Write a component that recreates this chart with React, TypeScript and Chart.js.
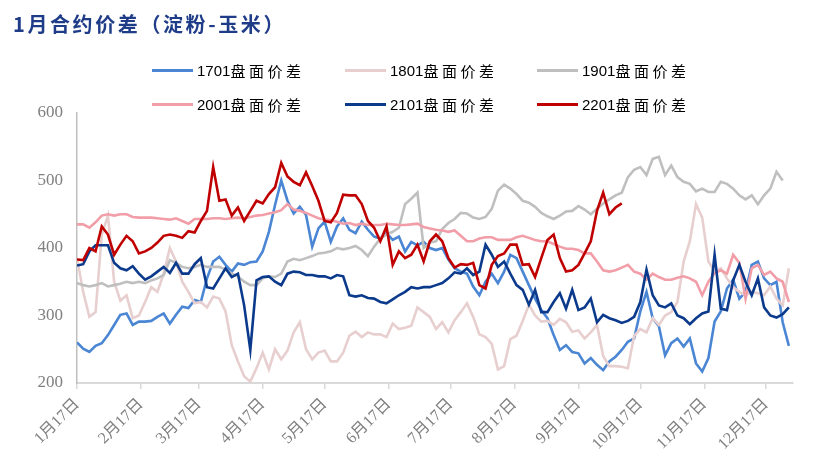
import React, { useEffect, useRef } from "react";
import { Chart, registerables } from "chart.js";

Chart.register(...registerables);

// x = days after Jan 17 (one sample every 3 days)
const DAYS: number[] = Array.from({ length: 116 }, (_, i) => i * 3);
const MONTH_TICKS = [0, 31, 59, 90, 120, 151, 181, 212, 243, 273, 304, 334];
const TICK_LABELS = ["1月17日", "2月17日", "3月17日", "4月17日", "5月17日", "6月17日", "7月17日", "8月17日", "9月17日", "10月17日", "11月17日", "12月17日"];
const TITLE = "1月合约价差（淀粉-玉米）";
const SERIES_NAMES = ["1701", "1801", "1901", "2001", "2101", "2201"];

const S1701 = [
  260, 251, 246, 255, 259, 271, 286, 301, 303, 286,
  291, 291, 292, 298, 303, 288, 301, 313, 311, 323,
  320, 355, 380, 387, 375, 365, 377, 375, 379, 380,
  395, 424, 464, 500, 470, 451, 461, 449, 402, 429,
  439, 409, 432, 444, 427, 422, 439, 427, 417, 414,
  422, 412, 417, 395, 409, 404, 409, 400, 397, 400,
  383, 370, 365, 362, 343, 330, 350, 362, 348, 365,
  390, 385, 365, 345, 325, 308, 296, 271, 249, 256,
  246, 244, 229, 237, 227, 219, 232, 239, 249, 261,
  266, 306, 335, 296, 284, 241, 259, 266, 254, 266,
  229, 217, 237, 291, 306, 340, 353, 325, 335, 375,
  380, 355, 345, 350, 290, 255,
];
const S1801 = [
  385, 335, 298, 305, 420, 448, 350, 322, 330, 296,
  300, 320, 342, 335, 362, 400, 380, 350, 335, 318,
  320, 312, 328, 325, 306, 256, 232, 210, 202, 222,
  245, 220, 250, 235, 248, 275, 290, 250, 235, 245,
  248, 232, 232, 245, 270, 276, 268, 275, 272, 272,
  268, 288, 280, 282, 285, 312, 305, 298, 280, 290,
  275, 293, 305, 318, 298, 272, 268, 258, 220, 225,
  265, 270, 292, 316, 300, 291, 292, 286, 295, 290,
  276, 278, 266, 275, 286, 240, 225, 225, 224, 222,
  270, 280, 275, 296, 286, 300, 305, 320, 380, 410,
  465, 445, 380, 365, 370, 355, 342, 335, 330, 335,
  333, 330, 343, 325, 315, 370,
];
const S1901 = [
  348, 345, 343, 345, 348, 343, 345, 347, 350, 348,
  350, 348, 352, 355, 360, 382, 378, 372, 370, 372,
  375, 372, 372, 372, 368, 362, 358, 350, 345, 345,
  355, 358, 357, 362, 380, 384, 382, 385, 388, 392,
  393, 395, 400, 398, 400, 403, 397, 388, 402, 414,
  420, 424, 430, 465, 473, 482, 400, 408, 410, 428,
  437, 443, 452, 451, 445, 443, 446, 458, 485, 494,
  488, 480, 470, 467, 461, 452, 447, 443, 448, 454,
  455, 462, 457, 450, 458, 466, 472, 478, 482, 505,
  516, 520, 508, 532, 535, 508, 522, 505, 498, 495,
  484, 488, 483, 483, 498, 495, 488, 478, 472, 478,
  465, 478, 488, 513, 500, null,
];
const S2001 = [
  435, 435, 430, 438, 448, 450, 448, 450, 450, 446,
  445, 445, 445, 444, 443, 442, 444, 440, 436, 443,
  443, 443, 444, 444, 443, 444, 445, 444, 446, 448,
  449, 451, 453, 456, 465, 457, 455, 452, 448, 444,
  442, 441, 439, 436, 437, 434, 436, 434, 434, 434,
  436, 435, 434, 434, 435, 436, 431, 429, 427, 426,
  424, 426, 418, 410, 410, 414, 416, 416, 412, 412,
  412, 416, 418, 415, 412, 410, 410, 406, 402, 399,
  399, 397, 392, 392, 380, 367, 365, 367, 371, 375,
  365, 362, 353, 362, 357, 353, 353, 356, 358, 355,
  350, 330, 350, 363, 367, 362, 390, 378, 325, 370,
  375, 360, 365, 355, 350, 320,
];
const S2101 = [
  374, 376, 395, 404, 404, 404, 378, 370, 367, 373,
  362, 353, 358, 365, 372, 363, 378, 362, 362, 376,
  385, 342, 340, 355, 370, 357, 362, 315, 249, 352,
  357, 358, 350, 345, 362, 365, 364, 360, 360, 358,
  358, 355, 360, 358, 330, 328, 330, 326, 325, 320,
  318, 324, 330, 335, 342, 340, 342, 342, 345, 348,
  355, 364, 362, 370, 360, 365, 405, 390, 372, 380,
  362, 345, 338, 316, 338, 305, 305, 320, 333, 310,
  338, 308, 312, 325, 290, 301, 296, 293, 289, 292,
  298, 320, 368, 330, 315, 312, 318, 300, 296, 287,
  296, 303, 306, 390, 310, 308, 352, 375, 350, 330,
  355, 312, 300, 297, 302, 312,
];
const S2201 = [
  383, 382, 400, 395, 432, 420, 390, 405, 418, 410,
  392, 395, 400, 408, 418, 420, 418, 415, 425, 423,
  440, 455, 520, 470, 472, 448, 460, 440, 455, 470,
  466, 480, 490, 526, 506, 498, 493, 512, 492, 470,
  440, 438, 452, 479, 478, 478, 465, 440, 430, 410,
  432, 375, 395, 385, 390, 405, 380, 410, 420, 410,
  385, 371, 376, 375, 378, 345, 340, 375, 388, 392,
  405, 405, 375, 376, 357, 385, 412, 420, 385, 365,
  367, 375, 392, 410, 455, 482, 450, 460, 466,
];

const SERIES = [S1701, S1801, S1901, S2001, S2101, S2201];
const COLORS = ["#4a86d4", "#e8cfcf", "#bfbfbf", "#f29ea8", "#0b3a8c", "#c00000"];

const pts = (arr: (number | null)[]) =>
  DAYS.map((d, i) => ({ x: d, y: arr[i] === undefined ? null : arr[i] }));

const LEGEND_POS = [
  { left: 152, top: 70 },
  { left: 345, top: 70 },
  { left: 537, top: 70 },
  { left: 152, top: 104 },
  { left: 345, top: 104 },
  { left: 537, top: 104 },
];

export default function App() {
  const ref = useRef<HTMLCanvasElement | null>(null);

  useEffect(() => {
    if (!ref.current) return;
    const chart = new Chart(ref.current, {
      type: "line",
      data: {
        datasets: SERIES.map((s, k) => ({
          label: SERIES_NAMES[k] + "盘面价差",
          data: pts(s),
          borderColor: COLORS[k],
          backgroundColor: COLORS[k],
          borderWidth: 2.6,
          pointRadius: 0,
          tension: 0,
          spanGaps: false,
          order: 5 - k,
        })),
      },
      options: {
        animation: false,
        responsive: false,
        maintainAspectRatio: false,
        layout: { padding: { left: 0, top: 113, right: 45, bottom: 0 } },
        plugins: {
          legend: { display: false },
          tooltip: { enabled: false },
          title: { display: false },
        },
        scales: {
          x: {
            type: "linear",
            min: 0,
            max: 347,
            afterBuildTicks: (s: any) => {
              s.ticks = MONTH_TICKS.map((v) => ({ value: v }));
            },
            afterFit: (s: any) => {
              s.height = 89;
            },
            ticks: {
              autoSkip: false,
              minRotation: 45,
              maxRotation: 45,
              padding: 6,
              color: "#808080",
              font: { family: '"Liberation Serif", "Noto Sans CJK SC", serif', size: 16 },
              callback: (_v: any, i: number) => TICK_LABELS[i],
            },
            grid: { drawOnChartArea: false, drawTicks: true, tickLength: 6, color: "#d9d9d9", lineWidth: 1.5 },
            border: { color: "#d9d9d9", width: 2 },
          },
          y: {
            min: 200,
            max: 600,
            afterFit: (s: any) => {
              s.width = 77;
            },
            ticks: {
              stepSize: 100,
              padding: 14,
              color: "#808080",
              font: { family: '"Liberation Serif", serif', size: 17 },
            },
            grid: { drawOnChartArea: false, drawTicks: false },
            border: { color: "#bfbfbf", width: 1.5 },
          },
        },
      },
    } as any);
    return () => chart.destroy();
  }, []);

  return (
    <div style={{ position: "absolute", left: 0, top: 0, width: 838, height: 472, background: "#fff", overflow: "hidden" }}>
      <canvas ref={ref} width={838} height={472} style={{ position: "absolute", left: 0, top: 0, width: 838, height: 472 }} />
      <div
        style={{
          position: "absolute",
          left: 13,
          top: 10,
          fontFamily: '"Noto Sans CJK SC", sans-serif',
          fontWeight: 700,
          fontSize: 20,
          letterSpacing: 2.6,
          color: "#1f3c88",
          lineHeight: "28px",
          whiteSpace: "nowrap",
        }}
      >
        {TITLE}
      </div>
      {SERIES_NAMES.map((n, k) => (
        <div key={n} style={{ position: "absolute", left: LEGEND_POS[k].left, top: LEGEND_POS[k].top - 12, height: 24, display: "flex", alignItems: "center", whiteSpace: "nowrap" }}>
          <div style={{ width: 41, height: 3, background: COLORS[k], marginRight: 4 }} />
          <span style={{ fontFamily: '"Liberation Sans", sans-serif', fontSize: 15, color: "#000" }}>{n}</span>
          <span style={{ fontFamily: '"Noto Sans CJK SC", sans-serif', fontSize: 15, letterSpacing: 3.5, color: "#000" }}>盘面价差</span>
        </div>
      ))}
    </div>
  );
}
